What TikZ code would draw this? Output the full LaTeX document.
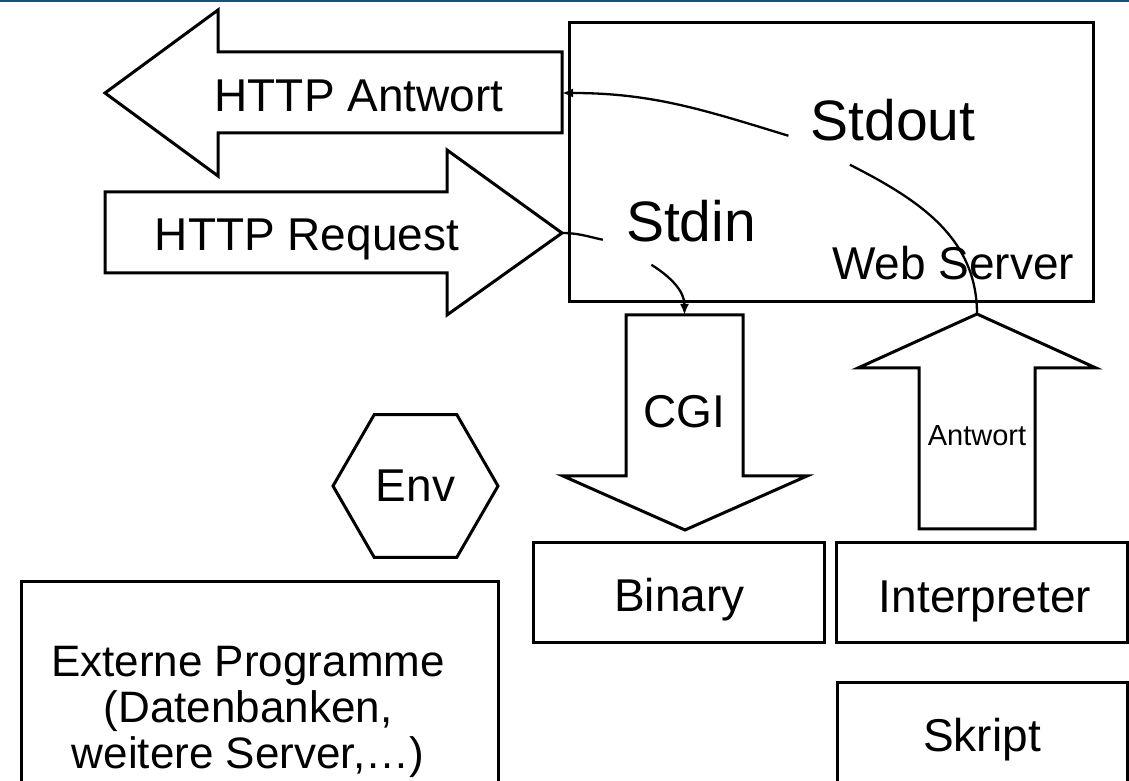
\documentclass[tikz,border=0pt]{standalone}
\usepackage{fontspec}
\setmainfont{Liberation Sans}
\usetikzlibrary{shapes.geometric,arrows.meta}
\definecolor{barblue}{HTML}{1F4E79}
\begin{document}
\begin{tikzpicture}[x=1pt,y=1pt,
        fat/.style={draw,line width=3pt,line join=miter},
        box/.style={draw,line width=3pt,inner sep=0pt},
        flow/.style={line width=2.3pt},
        tip/.style={-{Latex[length=11pt,width=9pt]}},
        lbl/.style={inner sep=0pt,anchor=base,font=\fontsize{46}{48}\selectfont},
        biglbl/.style={lbl,font=\fontsize{57}{60}\selectfont}]
    \useasboundingbox (0,0) rectangle (1129,781);
    \fill[barblue] (0,779) rectangle (1129,781);
    % web server and the boxes below it
    \draw[box] (569,479) rectangle (1093,758);
    \foreach \x/\n in {679/binary,982/interp}
        \node[box,minimum width=291pt,minimum height=100pt] (\n) at (\x,188) {};
    \draw[box] (837,-10) rectangle (1127,98);
    \draw[box] (21,-10) rectangle (498,199);
    % fat arrows
    \path[fat] (105,688) -- (218,771) -- (218,729) -- (562,729) -- (562,648)
        -- (218,648) -- (218,605) -- cycle;
    \coordinate (ansback) at (562,688);
    \path[fat] (105,589) -- (447,589) -- (447,631) -- (562,548) coordinate (reqtip)
        -- (447,466) -- (447,508) -- (105,508) -- cycle;
    \path[fat] (626,466) -- (743,466) -- (743,305) -- (807,305) -- (685,251)
        -- (563,305) -- (626,305) -- cycle;
    \coordinate (cgitop) at (684.5,466);
    \path[fat] (919,252) -- (1035,252) -- (1035,413) -- (1096,413)
        -- (977,467) coordinate (rettip) -- (858,413) -- (919,413) -- cycle;
    \node[fat,regular polygon,regular polygon sides=6,minimum size=165pt,inner sep=0pt,
        font=\fontsize{46}{48}\selectfont] (env) at (415.5,295) {Env};
    % labels
    \node[lbl] (antwort) at (359,669) {HTTP Antwort};
    \node[lbl] (request) at (307,530) {HTTP Request};
    \node[biglbl] (stdout) at (893,640) {Stdout};
    \node[biglbl] (stdin) at (691,539) {Stdin};
    \node[lbl] (server) at (953,501) {Web Server};
    \node[lbl] (cgi) at (684,353) {CGI};
    \node[lbl,font=\fontsize{29}{31}\selectfont] (ret) at (977,335) {Antwort};
    \node[lbl] at (679.5,169) {Binary};
    \node[lbl] at (985,168) {Interpreter};
    \node[lbl] (skript) at (982,29) {Skript};
    \node[inner sep=0pt,align=center,font=\fontsize{44}{46}\selectfont] (extern)
        at (248,69) {Externe Programme\\(Datenbanken,\\weitere Server,…)};
    % data flow
    \draw[flow,tip] ([shift={(-22,6)}]stdout.south west)
        to[out=163,in=0] (ansback);
    \draw[flow] (reqtip) to[out=0,in=168] ([shift={(-23,3)}]stdin.south west);
    \draw[flow,tip] ([shift={(25.5,-22)}]stdin.south west)
        to[out=-32,in=90] (cgitop);
    \draw[flow] ([shift={(39.5,-23)}]stdout.south west) to[out=-27,in=90] (rettip);
\end{tikzpicture}
\end{document}
